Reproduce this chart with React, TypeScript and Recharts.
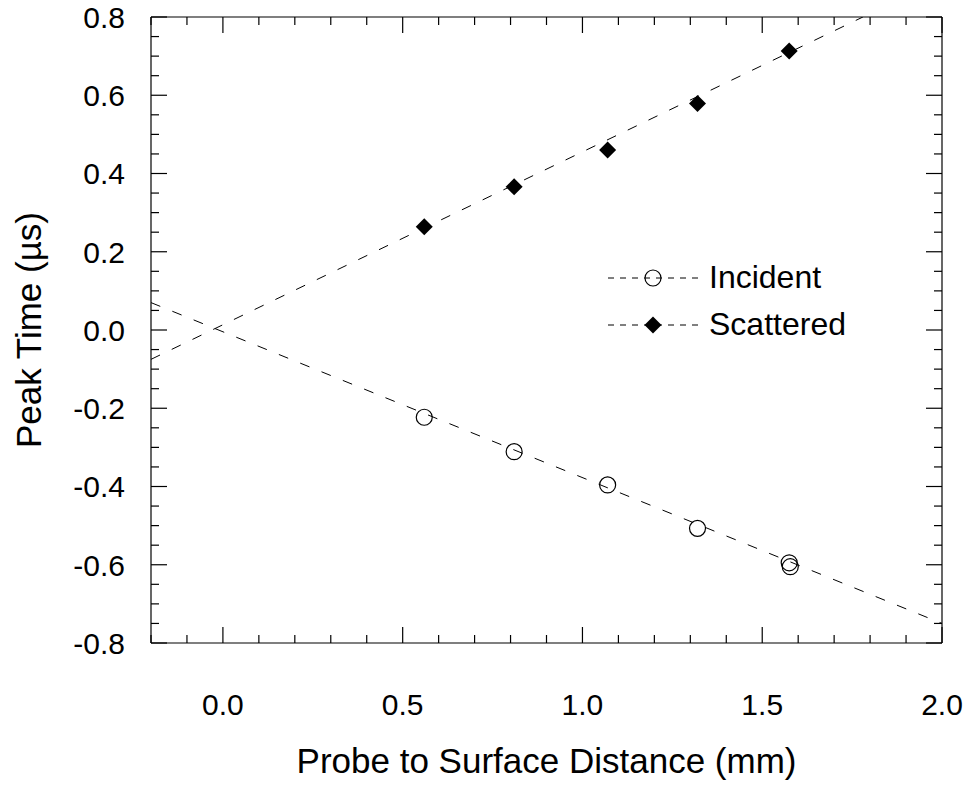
import React from 'react';
import { ComposedChart, XAxis, YAxis, Scatter, Line, Legend } from 'recharts';

// measured points (mm, µs)
const incidentX = [0.56, 0.81, 1.07, 1.32, 1.575, 1.578];
const incidentY = [-0.223, -0.311, -0.396, -0.507, -0.595, -0.605];
const scatteredX = [0.56, 0.81, 1.07, 1.32, 1.575];
const scatteredY = [0.264, 0.366, 0.46, 0.579, 0.713];

// dashed fit lines (end points)
const incidentFitX = [-0.2, 2.0];
const incidentFitY = [0.07, -0.75];
const scatteredFitX = [-0.2, 1.78];
const scatteredFitY = [-0.075, 0.8];

const xMajorTicks = [0, 0.5, 1.0, 1.5, 2.0];
const yMajorTicks = [-0.8, -0.6, -0.4, -0.2, 0, 0.2, 0.4, 0.6, 0.8];
const xTicks = Array.from({ length: 23 }, (_, i) => Math.round((-0.2 + i * 0.1) * 10) / 10);
const yTicks = Array.from({ length: 33 }, (_, i) => Math.round((-0.8 + i * 0.05) * 100) / 100);

const FONT = '"Liberation Sans", Arial, sans-serif';
const TICK_FONT = 30;
const TITLE_FONT = 35;

const toPoints = (xs: number[], ys: number[]) => xs.map((x, i) => ({ x, y: ys[i] }));
const incident = toPoints(incidentX, incidentY);
const scattered = toPoints(scatteredX, scatteredY);
const incidentFit = toPoints(incidentFitX, incidentFitY);
const scatteredFit = toPoints(scatteredFitX, scatteredFitY);

const isMajor = (list: number[], v: number) => list.some((m) => Math.abs(m - v) < 1e-6);
const fmt = (v: number) => (Math.abs(v) < 1e-9 ? '0.0' : v.toFixed(1));

const BottomTick = ({ x, y, payload }: any) => {
  const major = isMajor(xMajorTicks, payload.value);
  return (
    <g>
      <line x1={x} x2={x} y1={y} y2={y - (major ? 16 : 8)} stroke="#000" strokeWidth={1.2} />
      {major && (
        <text x={x} y={y + 72} textAnchor="middle" fontSize={TICK_FONT} fontFamily={FONT} fill="#000">
          {fmt(payload.value)}
        </text>
      )}
    </g>
  );
};

const TopTick = ({ x, y, payload }: any) => {
  const major = isMajor(xMajorTicks, payload.value);
  return <line x1={x} x2={x} y1={y} y2={y + (major ? 16 : 8)} stroke="#000" strokeWidth={1.2} />;
};

const LeftTick = ({ x, y, payload }: any) => {
  const major = isMajor(yMajorTicks, payload.value);
  return (
    <g>
      <line x1={x} x2={x + (major ? 16 : 8)} y1={y} y2={y} stroke="#000" strokeWidth={1.2} />
      {major && (
        <text x={x - 26} y={y} dy="0.36em" textAnchor="end" fontSize={TICK_FONT} fontFamily={FONT} fill="#000">
          {fmt(payload.value)}
        </text>
      )}
    </g>
  );
};

const RightTick = ({ x, y, payload }: any) => {
  const major = isMajor(yMajorTicks, payload.value);
  return <line x1={x} x2={x - (major ? 16 : 8)} y1={y} y2={y} stroke="#000" strokeWidth={1.2} />;
};

const OpenCircle = ({ cx, cy }: any) => (
  <circle cx={cx} cy={cy} r={8} fill="none" stroke="#000" strokeWidth={1.2} />
);

const Diamond = ({ cx, cy }: any) => (
  <polygon points={`${cx},${cy - 8.5} ${cx + 8.5},${cy} ${cx},${cy + 8.5} ${cx - 8.5},${cy}`} fill="#000" />
);

const XTitle = (props: any) => {
  const vb = props.viewBox ?? { x: 151, y: 643, width: 791, height: 1 };
  return (
    <text x={vb.x + vb.width / 2} y={643 + 130} textAnchor="middle" fontSize={TITLE_FONT} fontFamily={FONT} fill="#000">
      Probe to Surface Distance (mm)
    </text>
  );
};

const YTitle = (props: any) => {
  const vb = props.viewBox ?? { x: 150, y: 17, width: 1, height: 626 };
  const cx = 28;
  const cy = vb.y + vb.height / 2;
  return (
    <text x={cx} y={cy} dy="0.36em" textAnchor="middle" fontSize={TITLE_FONT} fontFamily={FONT} fill="#000"
      transform={`rotate(-90, ${cx}, ${cy})`}>
      Peak Time (µs)
    </text>
  );
};

const legendItems = [
  { name: 'Incident', marker: 'circle' },
  { name: 'Scattered', marker: 'diamond' },
];

const LegendBox = () => (
  <div style={{ fontFamily: FONT }}>
    {legendItems.map((item) => (
      <div key={item.name} style={{ display: 'flex', alignItems: 'center', height: 47 }}>
        <svg width={92} height={20} style={{ display: 'block' }}>
          <line x1={0} x2={92} y1={10} y2={10} stroke="#000" strokeWidth={1} strokeDasharray="6 6" />
          {item.marker === 'circle' ? (
            <circle cx={45} cy={10} r={8} fill="none" stroke="#000" strokeWidth={1.2} />
          ) : (
            <polygon points="45,1.5 53.5,10 45,18.5 36.5,10" fill="#000" />
          )}
        </svg>
        <span style={{ marginLeft: 9, fontSize: 32, color: '#000' }}>{item.name}</span>
      </div>
    ))}
  </div>
);

export default function App() {
  return (
    <div style={{ position: 'absolute', left: 0, top: 0, width: 969, height: 786, background: '#fff' }}>
      <ComposedChart width={969} height={786} margin={{ top: 16, right: 26, bottom: 142, left: 150 }}>
        <XAxis
          type="number"
          dataKey="x"
          domain={[-0.2, 2.0]}
          ticks={xTicks}
          interval={0}
          height={1}
          tickSize={0}
          tickMargin={0}
          tick={<BottomTick />}
          axisLine={{ stroke: '#000', strokeWidth: 1.2 }}
          allowDataOverflow
          label={XTitle}
        />
        <XAxis
          xAxisId="top"
          orientation="top"
          type="number"
          dataKey="x"
          domain={[-0.2, 2.0]}
          ticks={xTicks}
          interval={0}
          height={1}
          tickSize={0}
          tickMargin={0}
          tick={<TopTick />}
          axisLine={{ stroke: '#000', strokeWidth: 1.2 }}
          allowDataOverflow
        />
        <YAxis
          type="number"
          dataKey="y"
          domain={[-0.8, 0.8]}
          ticks={yTicks}
          interval={0}
          width={1}
          tickSize={0}
          tickMargin={0}
          tick={<LeftTick />}
          axisLine={{ stroke: '#000', strokeWidth: 1.2 }}
          allowDataOverflow
          label={YTitle}
        />
        <YAxis
          yAxisId="right"
          orientation="right"
          type="number"
          dataKey="y"
          domain={[-0.8, 0.8]}
          ticks={yTicks}
          interval={0}
          width={1}
          tickSize={0}
          tickMargin={0}
          tick={<RightTick />}
          axisLine={{ stroke: '#000', strokeWidth: 1.2 }}
          allowDataOverflow
        />
        <Legend
          layout="vertical"
          align="center"
          verticalAlign="middle"
          content={() => <LegendBox />}
          wrapperStyle={{ left: 608, top: 254, width: 260, height: 94 }}
        />
        <Scatter name="Incident" data={incident} shape={<OpenCircle />} isAnimationActive={false} legendType="none" />
        <Scatter name="Scattered" data={scattered} shape={<Diamond />} isAnimationActive={false} legendType="none" />
        <Line
          data={incidentFit}
          dataKey="y"
          type="linear"
          stroke="#000"
          strokeWidth={1}
          strokeDasharray="10 13"
          dot={false}
          activeDot={false}
          legendType="none"
          isAnimationActive={false}
        />
        <Line
          data={scatteredFit}
          dataKey="y"
          type="linear"
          stroke="#000"
          strokeWidth={1}
          strokeDasharray="10 13"
          dot={false}
          activeDot={false}
          legendType="none"
          isAnimationActive={false}
        />
      </ComposedChart>
    </div>
  );
}
